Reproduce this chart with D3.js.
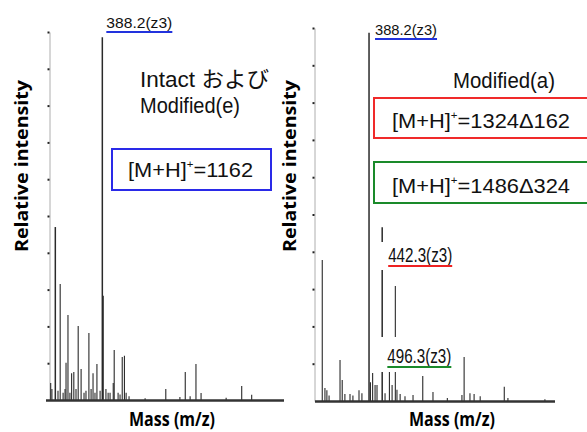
<!DOCTYPE html>
<html>
<head>
<meta charset="utf-8">
<script src="https://cdn.jsdelivr.net/npm/d3@7"></script>
<style>
  body { margin: 0; background: #fff; }
  svg { display: block; }
</style>
</head>
<body>
<div id="chart"></div>
<script>
// peak lists (m/z, relative intensity %)
var leftMz = [176, 181, 195, 206, 215, 227, 235, 239, 247, 255, 262, 271, 280, 289, 301, 313, 321, 333, 342, 350, 358, 366, 379, 388.2, 392, 403, 412, 420, 433, 437, 453, 461, 470, 479, 486, 498, 564, 649, 707, 729, 749, 773, 794, 897, 961, 1002];
var leftInt = [4.6, 3, 47, 2.5, 31.5, 2, 3, 10.1, 23.1, 2, 7.3, 7.6, 3, 20.1, 8.4, 2, 2.5, 18.2, 3, 7.3, 2, 9.8, 2.5, 98.6, 28.3, 3, 2, 2, 4.6, 13.6, 2, 1.5, 11.7, 12, 2, 1, 0.5, 3, 0.8, 7.6, 1, 9.8, 1.9, 0.6, 3.8, 1.4];

var rightMz = [196, 207, 215, 224, 269, 278, 289, 310, 322, 347, 359, 388.2, 394, 403, 413, 421, 442.3, 454, 472, 483, 496.3, 503, 516, 536, 569, 609, 651, 710, 770, 779, 803, 820, 845, 944, 959, 1111];
var rightInt = [37.8, 3.5, 2.9, 1.5, 11, 5.6, 1.9, 1.9, 1.5, 2.9, 2.1, 98.7, 5, 7.5, 4.3, 4.3, 46.6, 2.1, 7.8, 4.3, 30.8, 3, 1.9, 1.3, 1.6, 6.7, 2.4, 0.8, 1.6, 11.8, 2.1, 1.9, 1.3, 3.8, 0.8, 0.5];

var yTicks = [10, 20, 30, 40, 50, 60, 70, 80, 90, 100];
var mzDomain = [160, 1150];

var leftLabels = [{ mz: 388.2, text: "388.2(z3)", color: "#2233dd" }];
var rightLabels = [
  { mz: 388.2, text: "388.2(z3)", color: "#2233dd" },
  { mz: 442.3, text: "442.3(z3)", color: "#ee2222" },
  { mz: 496.3, text: "496.3(z3)", color: "#1a8a2a" }
];

var width = 587, height = 432;
var svg = d3.select("#chart").append("svg")
    .attr("width", width).attr("height", height);

var narrow = "'Liberation Sans Narrow', 'Liberation Sans', 'Noto Sans CJK JP', sans-serif";
var sans = "'Liberation Sans', 'Noto Sans CJK JP', sans-serif";
var bold = "'Open Sans', 'Noto Sans', sans-serif";

function drawPanel(p) {
  var x = d3.scaleLinear().domain(mzDomain).range(p.xRange);
  var y = d3.scaleLinear().domain([0, 100]).range([p.base, p.top]);

  // vertical axis, just a faint line with dot ticks
  var ax = svg.append("g")
      .attr("transform", "translate(" + p.axisX + ",0)")
      .call(d3.axisLeft(y).tickValues(yTicks).tickSize(2).tickSizeOuter(0).tickFormat(""));
  ax.select(".domain").attr("stroke", "#9a9a9a").attr("stroke-width", 0.8);
  ax.selectAll(".tick line").attr("stroke", "#222").attr("stroke-width", 2);

  // peaks
  svg.append("g").selectAll("line")
      .data(d3.zip(p.mz, p.int))
      .enter().append("line")
      .attr("x1", function (d) { return x(d[0]); })
      .attr("x2", function (d) { return x(d[0]); })
      .attr("y1", y(0))
      .attr("y2", function (d) { return y(d[1]); })
      .attr("stroke", "#2a2a2a")
      .attr("stroke-width", function (d) { return d[1] > 40 ? 1.5 : 1.1; });

  // baseline
  svg.append("line")
      .attr("x1", p.baseX[0]).attr("x2", p.baseX[1])
      .attr("y1", y(0) + 0.5).attr("y2", y(0) + 0.5)
      .attr("stroke", "#333").attr("stroke-width", 2.5);

  // axis titles
  svg.append("text")
      .attr("transform", "translate(" + p.titleX + ",166) rotate(-90)")
      .attr("text-anchor", "middle")
      .attr("dy", "0.35em")
      .style("font-family", bold).style("font-weight", "bold").style("font-size", "18px")
      .attr("textLength", 172).attr("lengthAdjust", "spacingAndGlyphs")
      .text("Relative intensity");
  svg.append("text")
      .attr("x", p.massX).attr("y", 426)
      .style("font-family", bold).style("font-weight", "bold").style("font-size", "19px")
      .attr("textLength", 86).attr("lengthAdjust", "spacingAndGlyphs")
      .text("Mass (m/z)");

  return x;
}

var xl = drawPanel({ mz: leftMz, int: leftInt, xRange: [46.8, 287.7], top: 32, base: 400,
  axisX: 49.5, baseX: [46, 284], titleX: 22, massX: 129 });

var xr = drawPanel({ mz: rightMz, int: rightInt, xRange: [313.5, 554.4], top: 28, base: 401,
  axisX: 314.5, baseX: [315, 555], titleX: 290, massX: 409 });

// white patches behind the labels in the right spectrum cut the peaks
svg.append("rect").attr("x", 377).attr("y", 242).attr("width", 78).attr("height", 28).attr("fill", "#fff");
svg.append("rect").attr("x", 377).attr("y", 337).attr("width", 78).attr("height", 35).attr("fill", "#fff");

function peakLabel(x, lab, dx, baseY, size, len, weight) {
  var x0 = x(lab.mz) + dx;
  svg.append("text")
      .attr("x", x0).attr("y", baseY)
      .style("font-family", narrow).style("font-size", size + "px").style("fill", "#111")
      .style("font-weight", weight)
      .attr("textLength", len).attr("lengthAdjust", "spacingAndGlyphs")
      .text(lab.text);
  svg.append("line")
      .attr("x1", x0).attr("x2", x0 + len)
      .attr("y1", baseY + 4).attr("y2", baseY + 4)
      .attr("stroke", lab.color).attr("stroke-width", 2.2);
}
peakLabel(xl, leftLabels[0], 4, 28, 15, 66, 400);
peakLabel(xr, rightLabels[0], 6, 35, 15, 62, 400);
peakLabel(xr, rightLabels[1], 6, 262, 20, 64, 400);
peakLabel(xr, rightLabels[2], -8, 363, 20, 64, 400);

// annotation text
function note(tx, ty, len, str, size) {
  return svg.append("text").attr("x", tx).attr("y", ty)
      .style("font-family", narrow).style("font-size", size + "px").style("fill", "#111")
      .attr("textLength", len).attr("lengthAdjust", "spacingAndGlyphs")
      .text(str);
}
note(140, 87, 129, "Intact  および", 22);
note(140, 113, 100, "Modified(e)", 22);
note(453, 88, 102, "Modified(a)", 22);

var boxes = [
  { x: 112, y: 149, w: 159, h: 41, color: "#2a2ae8", tx: 128, ty: 177, len: 125, num: "=1162" },
  { x: 374, y: 98, w: 240, h: 40, color: "#f02a2a", tx: 392, ty: 128, len: 178, num: "=1324Δ162" },
  { x: 374, y: 162, w: 240, h: 41, color: "#1a8a2a", tx: 392, ty: 193, len: 178, num: "=1486Δ324" }
];
boxes.forEach(function (b) {
  svg.append("rect").attr("x", b.x).attr("y", b.y).attr("width", b.w).attr("height", b.h)
      .attr("fill", "none").attr("stroke", b.color).attr("stroke-width", 2);
  var t = svg.append("text").attr("x", b.tx).attr("y", b.ty)
      .style("font-family", sans).style("font-size", "21px").style("fill", "#111")
      .attr("textLength", b.len).attr("lengthAdjust", "spacingAndGlyphs");
  t.append("tspan").text("[M+H]");
  t.append("tspan").attr("dy", -9).style("font-size", "11px").text("+");
  t.append("tspan").attr("dy", 9).text(b.num);
});
</script>
</body>
</html>
